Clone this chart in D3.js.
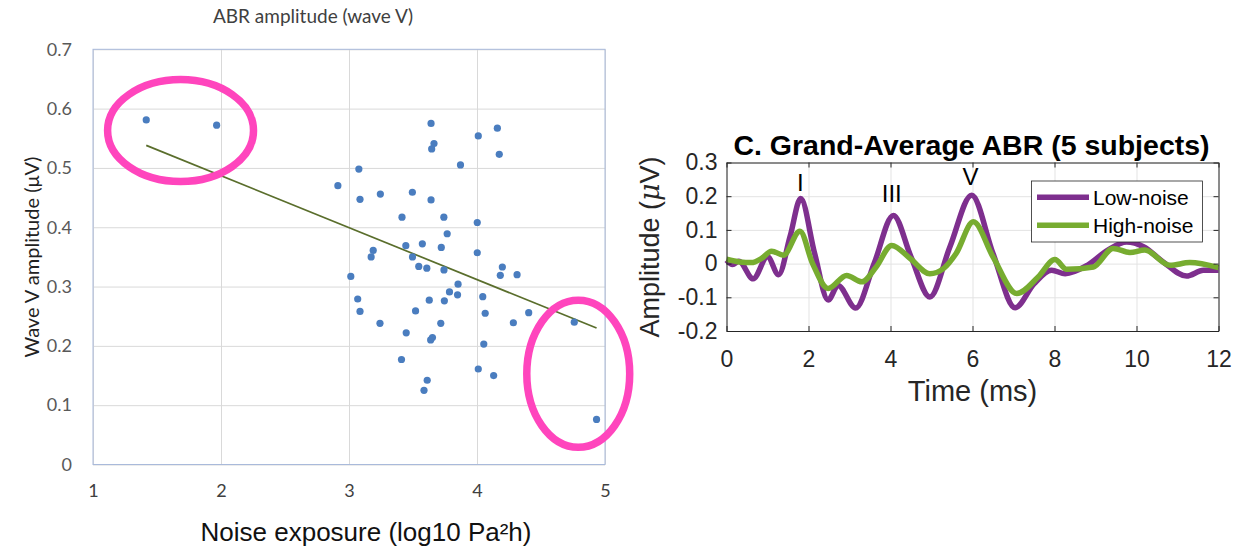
<!DOCTYPE html>
<html>
<head>
<meta charset="utf-8">
<script src="https://cdn.jsdelivr.net/npm/d3@7"></script>
<style>
  html, body { margin: 0; padding: 0; background: #fff; }
  svg { display: block; }
</style>
</head>
<body>
<svg width="1256" height="549"></svg>
<script>
// ---- left panel: wave V amplitude vs noise exposure ----
var noiseExposure = [1.416, 1.966, 3.641, 4.159, 4.010, 3.664, 3.646, 4.174, 3.871, 3.077,
  2.913, 3.245, 3.495, 3.086, 3.641, 3.414, 3.741, 4.002, 3.767, 3.189,
  3.173, 3.444, 3.573, 3.721, 4.002, 3.496, 3.545, 3.608, 3.742, 4.198,
  4.182, 4.313, 3.014, 3.852, 3.785, 3.848, 4.045, 3.068, 3.627, 3.745,
  3.086, 3.520, 4.064, 4.404, 3.242, 3.717, 4.284, 4.760, 3.447, 3.652,
  3.638, 4.053, 3.410, 4.010, 4.130, 3.611, 3.586, 4.934];
var waveVAmp = [0.581, 0.572, 0.575, 0.567, 0.554, 0.541, 0.532, 0.523, 0.505, 0.498,
  0.470, 0.456, 0.459, 0.447, 0.446, 0.417, 0.417, 0.408, 0.389, 0.361,
  0.350, 0.369, 0.372, 0.366, 0.357, 0.350, 0.334, 0.331, 0.328, 0.333,
  0.319, 0.320, 0.317, 0.304, 0.291, 0.286, 0.283, 0.279, 0.277, 0.276,
  0.258, 0.259, 0.255, 0.256, 0.238, 0.238, 0.239, 0.240, 0.222, 0.214,
  0.210, 0.203, 0.177, 0.161, 0.150, 0.142, 0.125, 0.076];
var trendX = [1.416, 4.934];
var trendY = [0.538, 0.230];
var exposureTicks = [1, 2, 3, 4, 5];
var amplitudeTicks = [0, 0.1, 0.2, 0.3, 0.4, 0.5, 0.6, 0.7];
// highlighted groups (centre x, centre y, half width, half height in data units)
var circledX = [1.684, 4.791];
var circledY = [0.563, 0.153];
var circledRx = [0.57, 0.402];
var circledRy = [0.086, 0.124];

// ---- right panel: grand-average ABR ----
var lowNoiseT = [0, 0.15, 0.3, 0.65, 1.0, 1.27, 1.55, 1.81, 2.15, 2.48, 2.72, 3.15, 3.6, 4.07,
  4.5, 4.96, 5.45, 5.98, 6.5, 7.04, 7.5, 7.93, 8.26, 8.8, 9.3, 9.76, 10.17, 10.65, 11.22, 11.63, 12];
var lowNoiseA = [0.01, -0.003, 0.007, -0.045, 0.02, -0.033, 0.08, 0.193, 0.03, -0.108, -0.065, -0.132, 0.0, 0.143,
  0.02, -0.099, 0.05, 0.203, 0.03, -0.131, -0.06, -0.02, -0.03, -0.005, 0.04, 0.064, 0.05, 0.005, -0.037, -0.02, -0.02];
var highNoiseT = [0, 0.33, 0.61, 0.85, 1.1, 1.39, 1.79, 2.1, 2.48, 2.93, 3.3, 3.65, 4.03, 4.48,
  4.96, 5.29, 5.6, 6.02, 6.5, 7.08, 7.6, 8.01, 8.3, 8.95, 9.43, 9.84, 10.2, 10.82, 11.3, 12];
var highNoiseA = [0.013, 0.005, 0.003, 0.015, 0.037, 0.025, 0.096, 0.0, -0.074, -0.035, -0.054, -0.01, 0.054, 0.015,
  -0.03, -0.015, 0.03, 0.124, 0.02, -0.089, -0.04, 0.012, -0.017, -0.01, 0.045, 0.033, 0.04, -0.005, 0.003, -0.012];
var timeTicks = [0, 2, 4, 6, 8, 10, 12];
var abrTicks = [-0.2, -0.1, 0, 0.1, 0.2, 0.3];
var peakNames = ["I", "III", "V"];
var peakT = [1.8, 4.03, 5.95];
var peakA = [0.214, 0.183, 0.232];
var seriesNames = ["Low-noise", "High-noise"];

function fmt(d) { return d === 0 ? "0" : String(+d.toFixed(1)); }

var svg = d3.select("svg");
svg.append("rect").attr("width", 1256).attr("height", 549).attr("fill", "#fff");

// ================= left scatter =================
var calibri = "Lato, 'Open Sans', sans-serif";
var xL = d3.scaleLinear().domain([1, 5]).range([93, 605]);
var yL = d3.scaleLinear().domain([0, 0.7]).range([464.5, 49.3]);

var gy = svg.append("g")
    .attr("transform", "translate(93,0)")
    .call(d3.axisLeft(yL).tickValues(amplitudeTicks).tickSize(-(605 - 93)).tickPadding(21).tickFormat(fmt));
gy.select(".domain").remove();
gy.selectAll("line").attr("stroke", "#d9d9d9");
gy.selectAll("text").attr("fill", "#595959").style("font", "18px " + calibri);

var gx = svg.append("g")
    .attr("transform", "translate(0,464.5)")
    .call(d3.axisBottom(xL).tickValues(exposureTicks).tickSize(-(464.5 - 49.3)).tickPadding(20).tickFormat(d3.format("d")));
gx.select(".domain").remove();
gx.selectAll("line").attr("stroke", "#d9d9d9");
gx.selectAll("text").attr("fill", "#404040").style("font", "18px " + calibri);

svg.append("rect")
    .attr("x", xL(1)).attr("y", yL(0.7))
    .attr("width", xL(5) - xL(1)).attr("height", yL(0) - yL(0.7))
    .attr("fill", "none").attr("stroke", "#a9badb").attr("stroke-width", 1);

svg.append("line")
    .attr("x1", xL(trendX[0])).attr("y1", yL(trendY[0]))
    .attr("x2", xL(trendX[1])).attr("y2", yL(trendY[1]))
    .attr("stroke", "#5a6e2c").attr("stroke-width", 1.7);

svg.append("g").selectAll("circle")
    .data(d3.range(noiseExposure.length))
    .enter().append("circle")
    .attr("cx", function(i) { return xL(noiseExposure[i]); })
    .attr("cy", function(i) { return yL(waveVAmp[i]); })
    .attr("r", 3.6)
    .attr("fill", "#4a7dbf");

svg.append("g").selectAll("ellipse")
    .data(d3.range(circledX.length))
    .enter().append("ellipse")
    .attr("cx", function(i) { return xL(circledX[i]); })
    .attr("cy", function(i) { return yL(circledY[i]); })
    .attr("rx", function(i) { return xL(1 + circledRx[i]) - xL(1); })
    .attr("ry", function(i) { return yL(0) - yL(circledRy[i]); })
    .attr("fill", "none").attr("stroke", "#ff45bd").attr("stroke-width", 7.5);

svg.append("text")
    .attr("x", 313).attr("y", 23)
    .attr("text-anchor", "middle")
    .attr("fill", "#404040")
    .style("font", "19px " + calibri)
    .text("ABR amplitude (wave V)");

svg.append("text")
    .attr("transform", "translate(39,257) rotate(-90)")
    .attr("text-anchor", "middle")
    .attr("fill", "#222")
    .style("font", "20px " + calibri)
    .text("Wave V amplitude (\u03bcV)");

svg.append("text")
    .attr("x", 366).attr("y", 541)
    .attr("text-anchor", "middle")
    .attr("fill", "#111")
    .style("font", "26px 'Liberation Sans', Arial, sans-serif")
    .text("Noise exposure (log10 Pa\u00b2h)");

// ================= right ABR panel =================
var helv = "'Liberation Sans', Arial, Helvetica, sans-serif";
var xR = d3.scaleLinear().domain([0, 12]).range([726.5, 1218.5]);
var yR = d3.scaleLinear().domain([-0.2, 0.3]).range([331, 162.5]);
var axCol = "#262626";

var gridX = svg.append("g")
    .attr("transform", "translate(0,331)")
    .call(d3.axisBottom(xR).tickValues(timeTicks).tickSize(-(331 - 162.5)).tickFormat(""));
gridX.select(".domain").remove();
gridX.selectAll("line").attr("stroke", "#e3e3e3");

var gridY = svg.append("g")
    .attr("transform", "translate(726.5,0)")
    .call(d3.axisLeft(yR).tickValues(abrTicks).tickSize(-(1218.5 - 726.5)).tickFormat(""));
gridY.select(".domain").remove();
gridY.selectAll("line").attr("stroke", "#e3e3e3");

var line = d3.line()
    .x(function(d) { return xR(d[0]); })
    .y(function(d) { return yR(d[1]); })
    .curve(d3.curveMonotoneX);

var lowPts = lowNoiseT.map(function(t, i) { return [t, lowNoiseA[i]]; });
var highPts = highNoiseT.map(function(t, i) { return [t, highNoiseA[i]]; });
var colors = ["#7e2f8e", "#77ac30"];

svg.append("path").datum(lowPts)
    .attr("d", line).attr("fill", "none")
    .attr("stroke", colors[0]).attr("stroke-width", 5.5).attr("stroke-linejoin", "round");
svg.append("path").datum(highPts)
    .attr("d", line).attr("fill", "none")
    .attr("stroke", colors[1]).attr("stroke-width", 5.5).attr("stroke-linejoin", "round");

function styleAxis(g, withText) {
  g.select(".domain").attr("stroke", axCol);
  g.selectAll(".tick line").attr("stroke", axCol);
  if (withText) g.selectAll("text").attr("fill", axCol).style("font", "23px " + helv);
  else g.selectAll("text").remove();
}

styleAxis(svg.append("g").attr("transform", "translate(0,331)")
    .call(d3.axisBottom(xR).tickValues(timeTicks).tickSizeInner(-5).tickSizeOuter(0).tickPadding(20).tickFormat(fmt)), true);
styleAxis(svg.append("g").attr("transform", "translate(726.5,0)")
    .call(d3.axisLeft(yR).tickValues(abrTicks).tickSizeInner(-5).tickSizeOuter(0).tickPadding(9).tickFormat(fmt)), true);
styleAxis(svg.append("g").attr("transform", "translate(0,162.5)")
    .call(d3.axisTop(xR).tickValues(timeTicks).tickSizeInner(-5).tickSizeOuter(0)), false);
styleAxis(svg.append("g").attr("transform", "translate(1218.5,0)")
    .call(d3.axisRight(yR).tickValues(abrTicks).tickSizeInner(-5).tickSizeOuter(0)), false);

svg.append("g").selectAll("text")
    .data(peakNames)
    .enter().append("text")
    .attr("x", function(d, i) { return xR(peakT[i]); })
    .attr("y", function(d, i) { return yR(peakA[i]); })
    .attr("text-anchor", "middle")
    .attr("fill", "#000")
    .style("font", "24px " + helv)
    .text(function(d) { return d; });

svg.append("text")
    .attr("x", xR(6) - 1).attr("y", 155)
    .attr("text-anchor", "middle")
    .attr("fill", "#000")
    .style("font", "bold 28.5px " + helv)
    .text("C. Grand-Average ABR (5 subjects)");

svg.append("text")
    .attr("x", xR(6)).attr("y", 401)
    .attr("text-anchor", "middle")
    .attr("fill", axCol)
    .style("font", "29px " + helv)
    .text("Time (ms)");

var yt = svg.append("text")
    .attr("transform", "translate(659,247) rotate(-90)")
    .attr("text-anchor", "middle")
    .attr("fill", axCol)
    .style("font", "27px " + helv);
yt.append("tspan").text("Amplitude (");
yt.append("tspan").style("font", "italic 27px 'DejaVu Serif', 'Liberation Serif', serif").text("\u03bc");
yt.append("tspan").text("V)");

// legend
var leg = svg.append("g");
leg.append("rect")
    .attr("x", 1031.5).attr("y", 181).attr("width", 171).attr("height", 61)
    .attr("fill", "#fff").attr("stroke", axCol).attr("stroke-width", 0.8);
seriesNames.forEach(function(name, i) {
  var y = 197.3 + i * 28;
  leg.append("line")
      .attr("x1", 1037).attr("x2", 1089).attr("y1", y).attr("y2", y)
      .attr("stroke", colors[i]).attr("stroke-width", 5.5);
  leg.append("text")
      .attr("x", 1093).attr("y", y).attr("dy", "0.36em")
      .attr("fill", "#000")
      .style("font", "21px " + helv)
      .text(name);
});
</script>
</body>
</html>
